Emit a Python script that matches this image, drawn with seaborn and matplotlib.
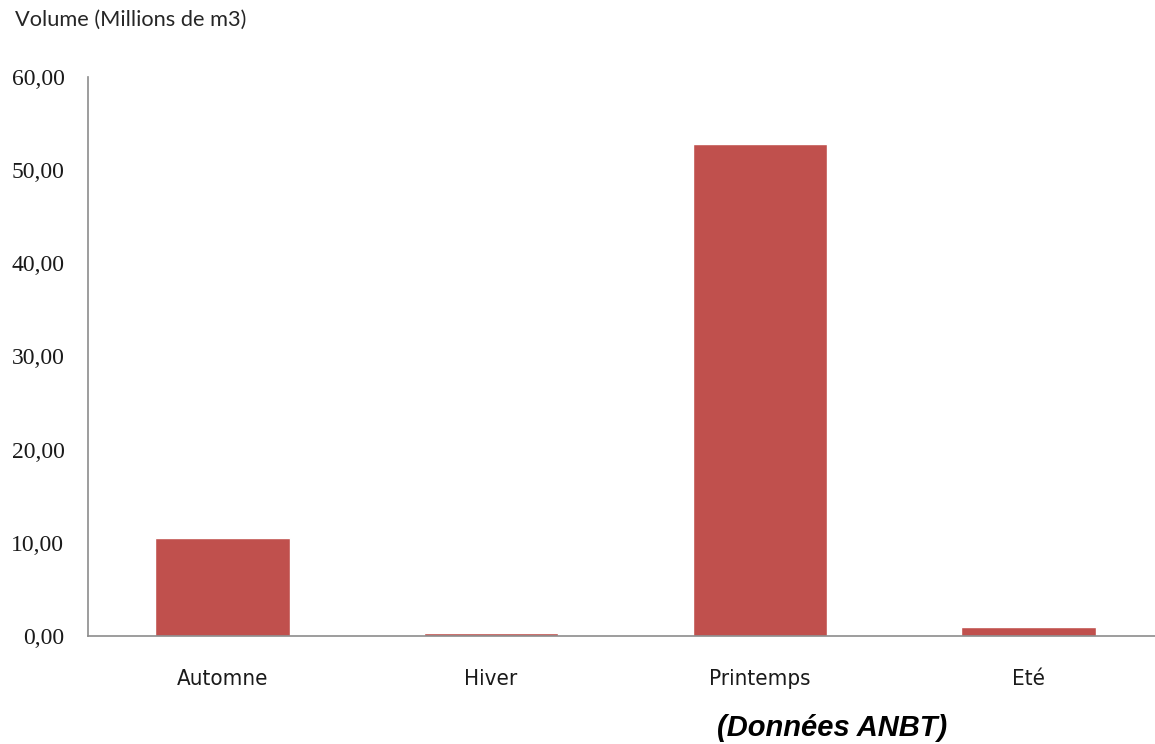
import matplotlib
matplotlib.use("Agg")
import matplotlib.pyplot as plt
import seaborn as sns
import pandas as pd
from matplotlib.ticker import FuncFormatter

# Seasonal volumes (millions of m3)
seasons = ["Automne", "Hiver", "Printemps", "Eté"]
volumes = [10.5, 0.35, 52.8, 0.97]
y_ticks = [0, 10, 20, 30, 40, 50, 60]

df = pd.DataFrame({"Saison": seasons, "Volume": volumes})

sns.set_theme(style="white")
plt.rcParams["font.family"] = ["Liberation Sans", "DejaVu Sans"]

W, H = 1155, 744
fig = plt.figure(figsize=(W / 100, H / 100), dpi=100)
left, right, top, bottom = 88, 1163, 77, 636
ax = fig.add_axes([left / W, 1 - bottom / H, (right - left) / W, (bottom - top) / H])

sns.barplot(data=df, x="Saison", y="Volume", color="#C0504D", saturation=1,
            width=0.5, ax=ax)

ax.set_xlim(-0.5, 3.5)
ax.set_ylim(0, 60)
ax.set_yticks(y_ticks)
ax.yaxis.set_major_formatter(FuncFormatter(lambda v, p: f"{v:.2f}".replace(".", ",")))
ax.set_xlabel("")
ax.set_ylabel("")

for side in ["top", "right"]:
    ax.spines[side].set_visible(False)
for side in ["left", "bottom"]:
    ax.spines[side].set_color("#8c8c8c")
    ax.spines[side].set_linewidth(1.2)

ax.tick_params(axis="both", length=0)
ax.tick_params(axis="y", pad=17)
ax.tick_params(axis="x", pad=24)
for lab in ax.get_yticklabels():
    lab.set_fontfamily("Liberation Serif")
    lab.set_fontsize(17)
    lab.set_color("#1a1a1a")
for lab in ax.get_xticklabels():
    lab.set_fontfamily("DejaVu Sans")
    lab.set_fontstretch("condensed")
    lab.set_fontsize(16)
    lab.set_color("#1a1a1a")

fig.text(15 / W, 1 - 26 / H, "Volume (Millions de m3)", fontsize=15.7,
         family=["Lato", "DejaVu Sans"], color="#262626", va="baseline", ha="left")
fig.text(717 / W, 1 - 736 / H, "(Données ANBT)", fontsize=21, fontweight="bold",
         fontstyle="italic", family=["Liberation Sans", "DejaVu Sans"],
         color="black", va="baseline", ha="left")

fig.savefig("out.png", dpi=100)
